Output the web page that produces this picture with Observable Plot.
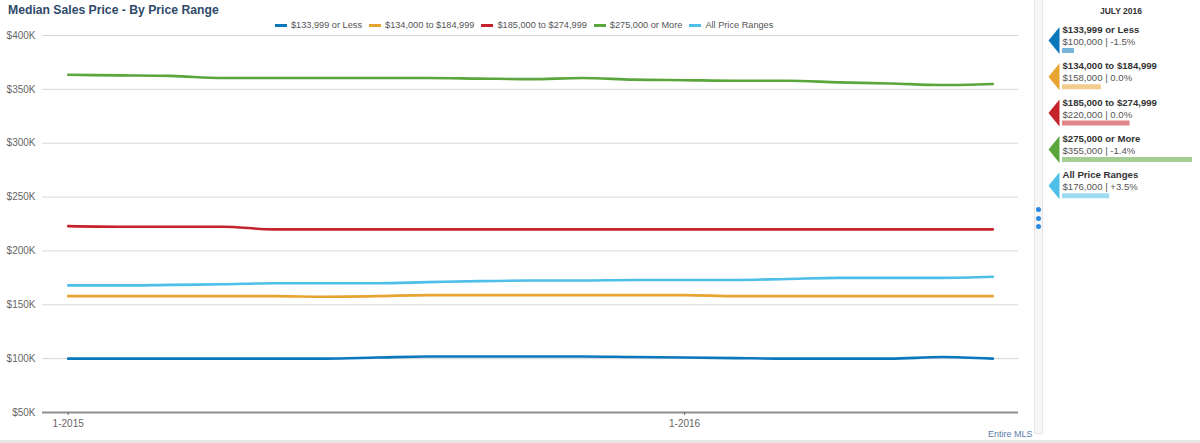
<!DOCTYPE html>
<html><head><meta charset="utf-8">
<script src="https://cdn.jsdelivr.net/npm/d3@7"></script>
<script src="https://cdn.jsdelivr.net/npm/@observablehq/plot@0.6"></script>
<style>
body{margin:0;width:1200px;height:443px;overflow:hidden;background:#fff;font-family:"Liberation Sans",Arial,sans-serif;position:relative}
#title{position:absolute;left:8px;top:3px;font-size:12.2px;font-weight:bold;color:#2f4a6a;white-space:nowrap}
#legend{position:absolute;left:275px;top:20px;display:flex;align-items:center;font-size:9.2px;color:#555;white-space:nowrap}
#legend .it{display:flex;align-items:center;margin-right:7px}
#legend .sw{width:12px;height:3px;margin-right:4px}
#chart{position:absolute;left:0;top:28px}
#strip{position:absolute;left:1034px;top:0;width:7px;height:433px;background:#f6f6f6;border-left:1px solid #e6e6e6;border-right:1px solid #e6e6e6;border-bottom:1px solid #e6e6e6}
#dots{position:absolute;left:1036px;top:207px}
#dots div{width:5px;height:5px;border-radius:50%;background:#2b8be0;margin-bottom:3.5px}
#month{position:absolute;left:1081px;width:80px;text-align:center;top:6px;font-size:8.5px;font-weight:bold;color:#333}
#side{position:absolute;left:1035px;top:0}
#mls{position:absolute;left:988px;top:429px;font-size:9px;color:#5b7ea8;white-space:nowrap}
#bottom{position:absolute;left:0;top:440px;width:1200px;height:3px;background:#e6e6e6}
</style></head><body>
<div id="title">Median Sales Price - By Price Range</div>
<div id="legend"></div>
<div id="chart"></div>
<div id="strip"></div>
<div id="dots"><div></div><div></div><div></div></div>
<div id="month">JULY 2016</div>
<div id="side"></div>
<div id="mls">Entire MLS</div>
<div id="bottom"></div>
<script>
// ---- data ----
const months = ["2015-01","2015-02","2015-03","2015-04","2015-05","2015-06","2015-07","2015-08","2015-09","2015-10","2015-11","2015-12","2016-01","2016-02","2016-03","2016-04","2016-05","2016-06","2016-07"];
const series = ["$133,999 or Less","$134,000 to $184,999","$185,000 to $274,999","$275,000 or More","All Price Ranges"];
const colors = ["#0b77bd","#e8a431","#c4232b","#5ba63c","#4dbfe9"];
const under134k = [100000,100000,100000,100000,100000,100000,101000,102000,102000,102000,102000,101500,101000,100500,100000,100000,100000,101500,100000];
const from134k = [158000,158000,158000,158000,158000,157500,158000,159000,159000,159000,159000,159000,159000,158000,158000,158000,158000,158000,158000];
const from185k = [223000,222500,222500,222500,220000,220000,220000,220000,220000,220000,220000,220000,220000,220000,220000,220000,220000,220000,220000];
const over275k = [363500,363000,362500,360500,360500,360500,360500,360500,360000,359500,360500,359000,358500,358000,358000,356500,355500,354000,355000];
const allRanges = [168000,168000,168500,169000,170000,170000,170000,171000,172000,172500,172500,173000,173000,173000,174000,175000,175000,175000,176000];
const xTickIndex = [0,12];
const xTickLabels = ["1-2015","1-2016"];
const yTicks = [50000,100000,150000,200000,250000,300000,350000,400000];
const latestValue = [100000,158000,220000,355000,176000];
const latestChange = ["-1.5%","0.0%","0.0%","-1.4%","+3.5%"];

const seriesValues = [under134k, from134k, from185k, over275k, allRanges];
const rows = [];
seriesValues.forEach((vals, s) => vals.forEach((v, i) => rows.push({i, month: months[i], series: series[s], value: v})));
const side = series.map((s, k) => ({k, series: s, value: latestValue[k], change: latestChange[k]}));

// ---- legend ----
const leg = document.getElementById("legend");
series.forEach((s, k) => {
  const it = document.createElement("div"); it.className = "it";
  const sw = document.createElement("div"); sw.className = "sw"; sw.style.background = colors[k];
  const t = document.createElement("span"); t.textContent = s;
  it.appendChild(sw); it.appendChild(t); leg.appendChild(it);
});

const fmtK = d => "$" + d / 1000 + "K";

// ---- main chart ----
const chart = Plot.plot({
  width: 1030, height: 415,
  marginLeft: 42, marginRight: 12, marginTop: 7, marginBottom: 31,
  style: {fontFamily: "Liberation Sans, Arial, sans-serif", fontSize: "10px", background: "transparent", color: "#666"},
  x: {domain: [-0.5, months.length - 0.5], axis: null},
  y: {domain: [50000, 400000], axis: null},
  color: {domain: series, range: colors},
  marks: [
    Plot.gridY(yTicks.slice(1), {stroke: "#d6d6d6", strokeOpacity: 1, strokeWidth: 1}),
    Plot.axisY(yTicks, {tickSize: 0, tickPadding: 7, tickFormat: fmtK, fill: "#666", fontSize: 10, label: null}),
    Plot.ruleY([50000], {stroke: "#8e8e8e", strokeWidth: 2}),
    Plot.axisX(xTickIndex, {tickSize: 3, tickPadding: 4, stroke: "#666", fill: "#666", fontSize: 10, label: null,
      tickFormat: d => xTickLabels[xTickIndex.indexOf(d)]}),
    Plot.line(rows, {x: "i", y: "value", z: "series", stroke: "series", strokeWidth: 2.6, curve: "monotone-x"})
  ]
});
document.getElementById("chart").appendChild(chart);

// ---- side panel ----
const arrow = {draw(ctx) { ctx.moveTo(-6, 0); ctx.lineTo(5, -13.5); ctx.lineTo(5, 13.5); ctx.closePath(); }};
const panel = Plot.plot({
  width: 165, height: 200, margin: 0,
  style: {fontFamily: "Liberation Sans, Arial, sans-serif", background: "transparent"},
  x: {domain: [74000, 355000], range: [27, 157], axis: null},
  y: {domain: [0, 4], range: [29.5, 174.7], axis: null},
  color: {domain: series, range: colors},
  marks: [
    Plot.ruleY(side, {y: "k", x1: () => 74000, x2: "value", stroke: "series", strokeOpacity: 0.55, strokeWidth: 5, dy: 20.5}),
    Plot.dot(side, {y: "k", frameAnchor: "left", dx: 19, dy: 10.5, symbol: arrow, r: 6, fill: "series", stroke: "none"}),
    Plot.text(side, {y: "k", text: "series", frameAnchor: "left", dx: 27, textAnchor: "start", fontWeight: "bold", fontSize: 9.6, fill: "#333"}),
    Plot.text(side, {y: "k", text: d => "$" + d3.format(",")(d.value) + " | " + d.change, frameAnchor: "left", dx: 27, dy: 12, textAnchor: "start", fontSize: 9.6, fill: "#555"})
  ]
});
document.getElementById("side").appendChild(panel);
</script>
</body></html>
